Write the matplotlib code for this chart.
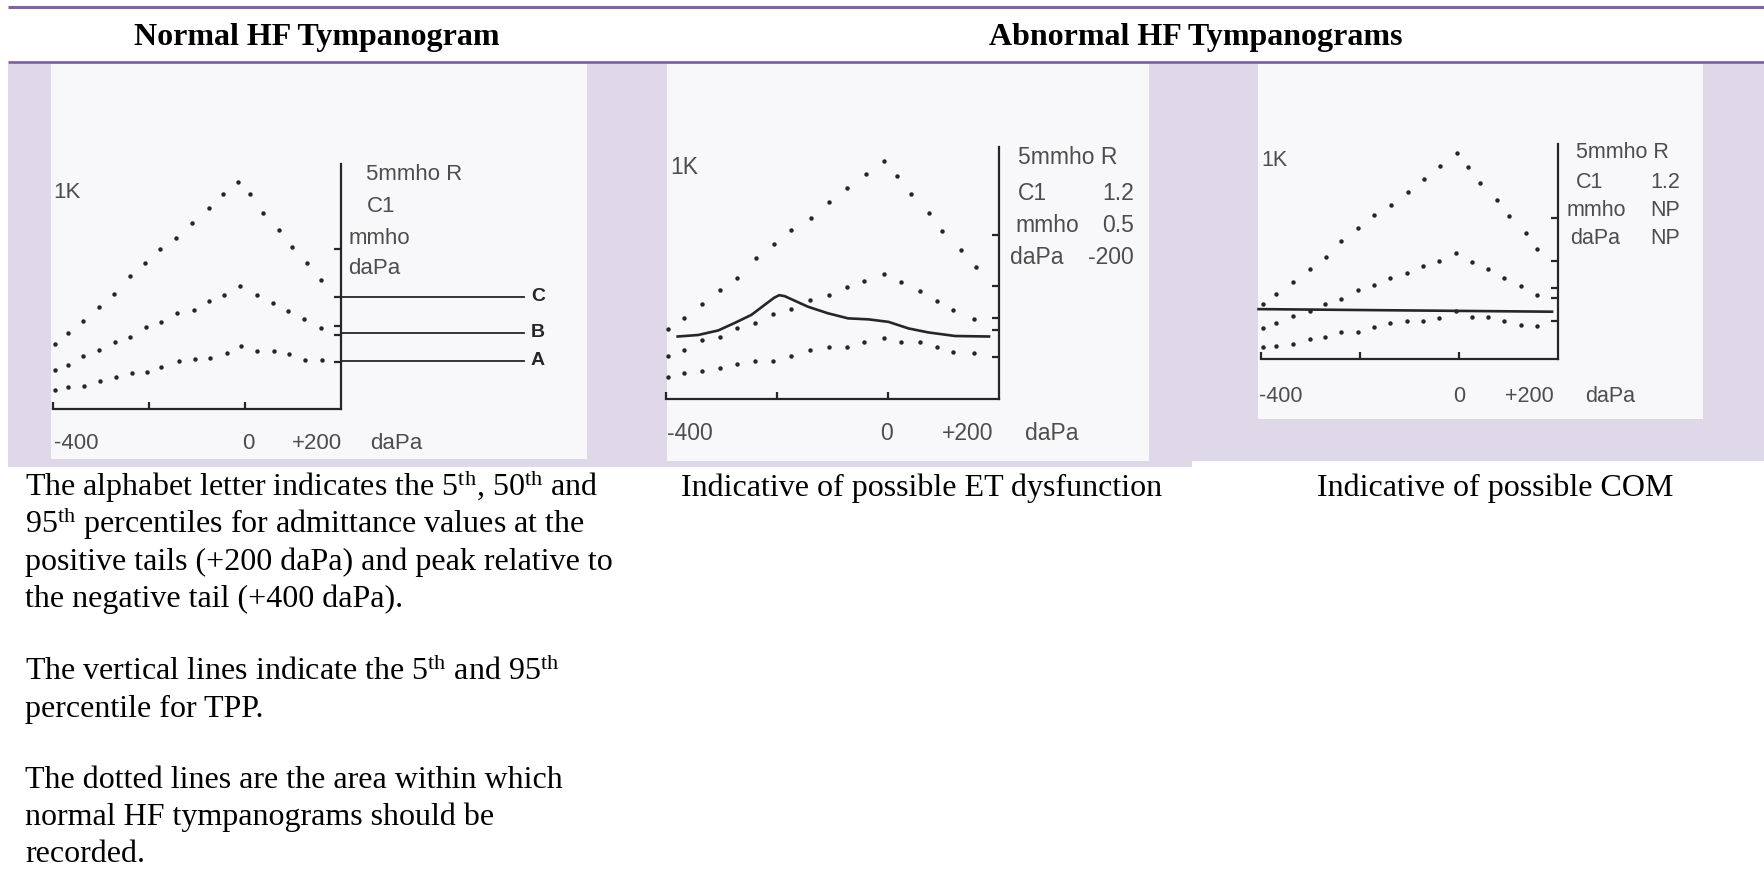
import matplotlib
matplotlib.use("Agg")
import matplotlib.pyplot as plt
from matplotlib.patches import Rectangle
from matplotlib.lines import Line2D

# ---------------- data ----------------
HEADERS = ["Normal HF Tympanogram", "Abnormal HF Tympanograms"]
X_TICKS = [-400, -200, 0]
X_TICK_LABELS = ["-400", "0", "+200", "daPa"]
XMIN, XMAX = -400, 200          # daPa
YMIN, YMAX = 0, 5               # mmho
CORNER_LABEL = "1K"

# Panel 1 : normal HF tympanogram (95th / 50th / 5th percentile dotted curves)
P1_UP_X = [-396, -368, -337, -305, -273, -240, -208, -177, -144, -110, -76, -45, -14, 10, 38, 71, 97, 129, 158]
P1_UP_Y = [1.33, 1.56, 1.80, 2.09, 2.34, 2.71, 2.97, 3.27, 3.48, 3.80, 4.10, 4.38, 4.64, 4.38, 4.01, 3.65, 3.30, 2.97, 2.63]
P1_MID_X = [-396, -368, -337, -305, -271, -240, -206, -174, -141, -106, -74, -43, -10, 24, 59, 90, 123, 158]
P1_MID_Y = [0.80, 0.90, 1.08, 1.20, 1.37, 1.46, 1.67, 1.77, 1.95, 2.03, 2.21, 2.33, 2.51, 2.33, 2.17, 1.99, 1.83, 1.65]
P1_LOW_X = [-396, -368, -335, -302, -269, -236, -205, -174, -138, -104, -73, -38, -9, 26, 60, 92, 125, 160]
P1_LOW_Y = [0.39, 0.44, 0.47, 0.57, 0.65, 0.74, 0.76, 0.86, 0.97, 1.02, 1.05, 1.15, 1.29, 1.19, 1.18, 1.12, 1.00, 0.99]
P1_RIGHT_TICKS = [3.27, 2.29, 1.69, 1.51, 0.96]
P1_LEVELS = [2.29, 1.56, 0.98]
P1_LEVEL_LABELS = ["C", "B", "A"]
P1_READOUT = [("5mmho R", ""), ("C1", ""), ("mmho", ""), ("daPa", "")]

# Panel 2 : possible ET dysfunction
P2_UP_X = [-396, -367, -336, -303, -272, -238, -205, -174, -139, -106, -73, -40, -8, 17, 41, 74, 98, 131, 158]
P2_UP_Y = [1.38, 1.61, 1.88, 2.16, 2.41, 2.79, 3.08, 3.35, 3.60, 3.90, 4.18, 4.46, 4.73, 4.43, 4.06, 3.70, 3.33, 2.95, 2.62]
P2_MID_X = [-396, -367, -336, -303, -272, -240, -207, -175, -141, -106, -74, -43, -8, 23, 58, 88, 118, 155]
P2_MID_Y = [0.85, 0.97, 1.17, 1.24, 1.40, 1.50, 1.69, 1.79, 1.96, 2.06, 2.23, 2.34, 2.49, 2.32, 2.15, 1.94, 1.77, 1.58]
P2_LOW_X = [-396, -367, -336, -303, -272, -240, -207, -175, -141, -106, -74, -43, -8, 23, 58, 88, 118, 155]
P2_LOW_Y = [0.44, 0.52, 0.56, 0.61, 0.69, 0.76, 0.76, 0.85, 0.97, 1.03, 1.04, 1.14, 1.22, 1.14, 1.14, 1.04, 0.94, 0.91]
P2_TRACE_X = [-379, -342, -306, -276, -246, -222, -205, -196, -186, -174, -144, -108, -72, -35, 1, 37, 73, 121, 182]
P2_TRACE_Y = [1.24, 1.27, 1.36, 1.51, 1.67, 1.87, 2.01, 2.06, 2.04, 1.98, 1.83, 1.70, 1.60, 1.58, 1.53, 1.40, 1.32, 1.25, 1.24]
P2_RIGHT_TICKS = [3.25, 2.24, 1.60, 1.37, 0.84]
P2_READOUT = [("5mmho R", ""), ("C1", "1.2"), ("mmho", "0.5"), ("daPa", "-200")]

# Panel 3 : possible COM (flat trace)
P3_UP_X = [-395, -370, -335, -302, -269, -238, -205, -172, -137, -104, -71, -38, -5, 19, 42, 76, 102, 135, 158]
P3_UP_Y = [1.29, 1.50, 1.80, 2.09, 2.38, 2.75, 3.04, 3.35, 3.57, 3.89, 4.19, 4.49, 4.78, 4.47, 4.09, 3.70, 3.33, 2.94, 2.55]
P3_MID_X = [-395, -370, -335, -302, -271, -238, -205, -172, -139, -106, -72, -40, -6, 27, 59, 91, 125, 158]
P3_MID_Y = [0.73, 0.83, 1.00, 1.12, 1.29, 1.40, 1.60, 1.72, 1.89, 1.99, 2.16, 2.29, 2.46, 2.26, 2.09, 1.89, 1.70, 1.49]
P3_LOW_X = [-395, -370, -335, -302, -271, -238, -205, -172, -139, -106, -72, -40, -6, 27, 59, 91, 125, 158]
P3_LOW_Y = [0.27, 0.31, 0.35, 0.46, 0.52, 0.62, 0.62, 0.74, 0.83, 0.88, 0.89, 0.96, 1.12, 0.98, 0.98, 0.89, 0.78, 0.77]
P3_TRACE_X = [-405, 188]
P3_TRACE_Y = [1.16, 1.10]
P3_RIGHT_TICKS = [3.27, 2.28, 1.65, 1.43, 0.88]
P3_READOUT = [("5mmho R", ""), ("C1", "1.2"), ("mmho", "NP"), ("daPa", "NP")]

NOTES = [
    r"The alphabet letter indicates the 5$^{\mathrm{th}}$, 50$^{\mathrm{th}}$ and",
    r"95$^{\mathrm{th}}$ percentiles for admittance values at the",
    "positive tails (+200 daPa) and peak relative to",
    "the negative tail (+400 daPa).",
    r"The vertical lines indicate the 5$^{\mathrm{th}}$ and 95$^{\mathrm{th}}$",
    "percentile for TPP.",
    "The dotted lines are the area within which",
    "normal HF tympanograms should be",
    "recorded.",
]
CAPTIONS = ["Indicative of possible ET dysfunction", "Indicative of possible COM"]

# ---------------- style / layout ----------------
W, H, DPI = 1764, 871, 100
PURPLE = "#8064A2"
LAVENDER = "#DFD8E8"
PAPER = "#F8F8FA"
INK = "#262626"
LABEL = "#4d4d4d"
SERIF = "Liberation Serif"
SANS = "Liberation Sans"

plt.rcParams["mathtext.fontset"] = "custom"
plt.rcParams["mathtext.rm"] = SERIF
plt.rcParams["mathtext.it"] = SERIF + ":italic"
plt.rcParams["mathtext.bf"] = SERIF + ":bold"

fig = plt.figure(figsize=(W / DPI, H / DPI), dpi=DPI)
fig.patch.set_facecolor("white")


def fx(x):
    return x / W


def fy(y):
    return 1 - y / H


def frect(x0, y0, x1, y1, color, z):
    fig.patches.append(Rectangle((fx(x0), fy(y1)), (x1 - x0) / W, (y1 - y0) / H,
                                 transform=fig.transFigure, facecolor=color,
                                 edgecolor="none", zorder=z))


def fhline(x0, x1, y, color, lw, z=-3):
    fig.lines.append(Line2D([fx(x0), fx(x1)], [fy(y), fy(y)], transform=fig.transFigure,
                            color=color, lw=lw, zorder=z, solid_capstyle="butt"))


def ftext(x, y, s, **kw):
    return fig.text(fx(x), fy(y), s, **kw)


# table background + rules
frect(8, 64, 1192, 467, LAVENDER, -10)
frect(1192, 64, W, 461, LAVENDER, -10)
fhline(8, W, 7.5, PURPLE, 2.2)
fhline(8, W, 62, PURPLE, 2.0)

# headers
ftext(317, 45, HEADERS[0], ha="center", va="baseline", family=SERIF,
      weight="bold", fontsize=23, color="black")
ftext(1196, 45, HEADERS[1], ha="center", va="baseline", family=SERIF,
      weight="bold", fontsize=23, color="black")

PANELS = [
    dict(img=(51, 64, 587, 459), ax=(53, 341, 409, 164),
         curves=[(P1_UP_X, P1_UP_Y), (P1_MID_X, P1_MID_Y), (P1_LOW_X, P1_LOW_Y)],
         trace=None, rticks=P1_RIGHT_TICKS, readout=P1_READOUT,
         read_left=[366, 367, 349, 348], read_right=None, read_y=[175, 207, 239, 269],
         read_fs=16, k_pos=(53, 192), tick_y=443,
         tick_pos=(54, 248, 342, 370)),
    dict(img=(667, 64, 1149, 461), ax=(666, 999, 399, 147),
         curves=[(P2_UP_X, P2_UP_Y), (P2_MID_X, P2_MID_Y), (P2_LOW_X, P2_LOW_Y)],
         trace=(P2_TRACE_X, P2_TRACE_Y), rticks=P2_RIGHT_TICKS, readout=P2_READOUT,
         read_left=[1018, 1018, 1015, 1010], read_right=1134, read_y=[158, 193, 225, 257],
         read_fs=16.5, k_pos=(670, 167), tick_y=433,
         tick_pos=(667, 886, 993, 1025)),
    dict(img=(1258, 64, 1703, 419), ax=(1261, 1558, 359, 144),
         curves=[(P3_UP_X, P3_UP_Y), (P3_MID_X, P3_MID_Y), (P3_LOW_X, P3_LOW_Y)],
         trace=(P3_TRACE_X, P3_TRACE_Y), rticks=P3_RIGHT_TICKS, readout=P3_READOUT,
         read_left=[1576, 1576, 1567, 1570], read_right=1680, read_y=[153, 182, 210, 238],
         read_fs=15.5, k_pos=(1261, 160), tick_y=396,
         tick_pos=(1259, 1459, 1554, 1585)),
]

axes = []
for p in PANELS:
    ix0, iy0, ix1, iy1 = p["img"]
    frect(ix0, iy0, ix1, iy1, PAPER, -9)
    x0, x1, y0, y1 = p["ax"]
    ax = fig.add_axes([fx(x0), fy(y0), (x1 - x0) / W, (y0 - y1) / H])
    ax.set_xlim(XMIN, XMAX)
    ax.set_ylim(YMIN, YMAX)
    ax.patch.set_visible(False)
    ax.spines["left"].set_visible(False)
    ax.spines["top"].set_visible(False)
    for s in ("bottom", "right"):
        ax.spines[s].set_color(INK)
        ax.spines[s].set_linewidth(1.6)
    ax.xaxis.set_ticks_position("bottom")
    ax.set_xticks(X_TICKS)
    ax.set_xticklabels([])
    ax.yaxis.set_ticks_position("right")
    ax.set_yticks(p["rticks"])
    ax.set_yticklabels([])
    ax.tick_params(axis="both", direction="in", length=5, width=1.6, colors=INK)
    for xs, ys in p["curves"]:
        ax.plot(xs, ys, linestyle="none", marker="o", ms=3.2, color=INK,
                markeredgewidth=0, clip_on=False)
    if p["trace"] is not None:
        ax.plot(p["trace"][0], p["trace"][1], color=INK, lw=1.9,
                solid_joinstyle="round", clip_on=False)
    axes.append(ax)

    # corner label, readout block, tick labels
    kx, ky = p["k_pos"]
    ftext(kx, ky, CORNER_LABEL, ha="left", va="center", family=SANS,
          fontsize=p["read_fs"], color=LABEL)
    for i, (left, right) in enumerate(p["readout"]):
        ftext(p["read_left"][i], p["read_y"][i], left, ha="left", va="center",
              family=SANS, fontsize=p["read_fs"], color=LABEL)
        if right:
            ftext(p["read_right"], p["read_y"][i], right, ha="right", va="center",
                  family=SANS, fontsize=p["read_fs"], color=LABEL)
    tl, tc, tr, tu = p["tick_pos"]
    ty = p["tick_y"]
    ftext(tl, ty, X_TICK_LABELS[0], ha="left", va="center", family=SANS,
          fontsize=p["read_fs"], color=LABEL)
    ftext(tc, ty, X_TICK_LABELS[1], ha="center", va="center", family=SANS,
          fontsize=p["read_fs"], color=LABEL)
    ftext(tr, ty, X_TICK_LABELS[2], ha="right", va="center", family=SANS,
          fontsize=p["read_fs"], color=LABEL)
    ftext(tu, ty, X_TICK_LABELS[3], ha="left", va="center", family=SANS,
          fontsize=p["read_fs"], color=LABEL)

# percentile reference lines C / B / A in panel 1 (extend past the right axis)
ax1 = axes[0]
LEVEL_END = 581   # daPa position where the reference lines stop
for lvl, lab in zip(P1_LEVELS, P1_LEVEL_LABELS):
    ax1.plot([XMAX, LEVEL_END], [lvl, lvl], color=INK, lw=1.3, clip_on=False)
    ax1.annotate(lab, xy=(LEVEL_END, lvl), xytext=(5, 0), textcoords="offset points",
                 ha="left", va="center", family=SANS, weight="bold",
                 fontsize=14, color=INK, annotation_clip=False)

# notes under panel 1
NOTE_BASELINES = [496, 533, 570, 607, 680, 717, 788, 825, 862]
for s, yb in zip(NOTES, NOTE_BASELINES):
    ftext(25, yb, s, ha="left", va="baseline", family=SERIF, fontsize=23, color="black")

ftext(681, 496, CAPTIONS[0], ha="left", va="baseline", family=SERIF, fontsize=23, color="black")
ftext(1317, 496, CAPTIONS[1], ha="left", va="baseline", family=SERIF, fontsize=23, color="black")

fig.savefig("out.png", dpi=DPI, facecolor="white")
